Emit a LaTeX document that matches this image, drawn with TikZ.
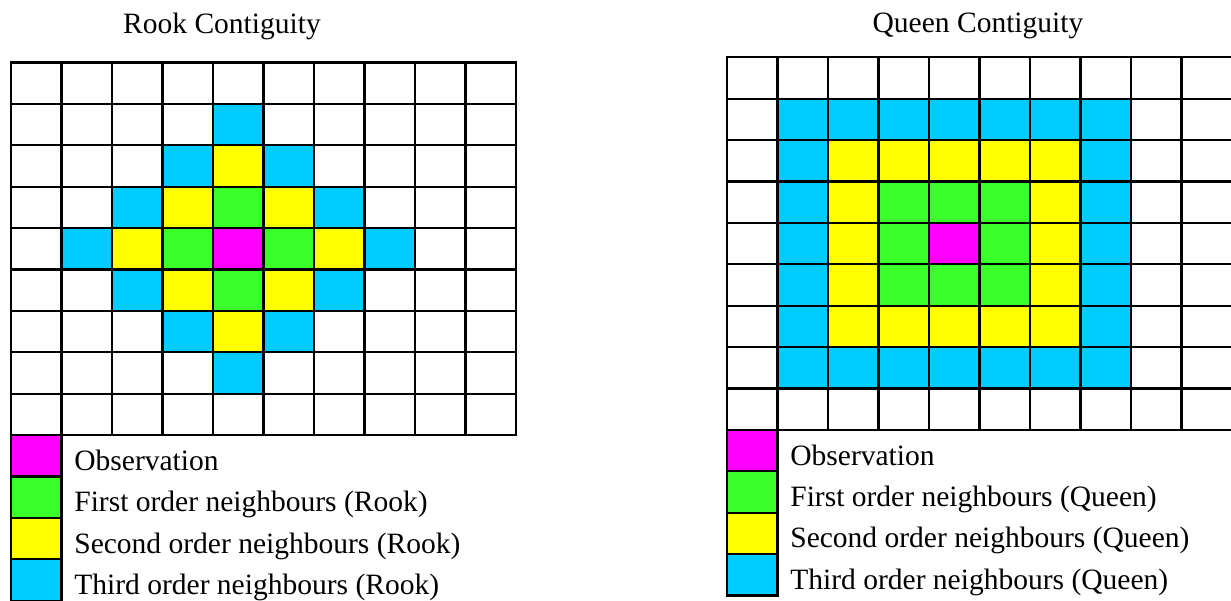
\documentclass[tikz,border=0pt]{standalone}
\usepackage{fontspec}
\setmainfont{Liberation Serif}
\usepackage{tikz}
\usetikzlibrary{positioning,calc}
\usepackage{xcolor}
\definecolor{obsmagenta}{RGB}{255,0,255}
\definecolor{firstgreen}{RGB}{58,255,42}
\definecolor{secondyellow}{RGB}{255,255,0}
\definecolor{thirdcyan}{RGB}{0,204,255}
\colorlet{ring0}{obsmagenta}
\colorlet{ring1}{firstgreen}
\colorlet{ring2}{secondyellow}
\colorlet{ring3}{thirdcyan}
\colorlet{ring4}{white}
\tikzset{
    gridcell/.style={
        rectangle,
        draw,
        line width=1.3pt,
        minimum width=1.01cm,
        minimum height=0.828cm,
        inner sep=0pt,
        outer sep=0pt
    },
    legendtext/.style={
        anchor=base west,
        inner sep=0pt,
        font=\fontsize{16.8}{20}\selectfont
    },
    titletext/.style={
        anchor=base,
        inner sep=0pt,
        font=\fontsize{16.8}{20}\selectfont
    }
}

\begin{document}
\begin{tikzpicture}[x=0.02cm,y=-0.02cm]
        \useasboundingbox (0,0) rectangle (1231,601);

        % Titles
        \node[titletext] (rooktitle) at (222,34) {Rook Contiguity};
        \node[titletext] (queentitle) at (978,33) {Queen Contiguity};

        % Rook grid (distance = |dc|+|dr| from the observation)
        \foreach \r in {0,...,8} {
            \foreach \c in {0,...,9} {
                \pgfmathtruncatemacro\dist{min(abs(\c-4)+abs(\r-4),4)}
                \node[gridcell, fill=ring\dist] (rook-\r-\c) at (36.25+50.5*\c,83.2+41.4*\r) {};
            }
        }

        % Queen grid (distance = max(|dc|,|dr|) from the observation)
        \foreach \r in {0,...,8} {
            \foreach \c in {0,...,9} {
                \pgfmathtruncatemacro\dist{min(max(abs(\c-4),abs(\r-4)),4)}
                \node[gridcell, fill=ring\dist] (queen-\r-\c) at (752.25+50.5*\c,78+41.4*\r) {};
            }
        }

        % Rook legend
        \node[gridcell, fill=obsmagenta] (rookobs) at (36.25,455.8) {};
        \node[gridcell, fill=firstgreen] (rookfirst) at (36.25,497.2) {};
        \node[gridcell, fill=secondyellow] (rooksecond) at (36.25,538.6) {};
        \node[gridcell, fill=thirdcyan] (rookthird) at (36.25,580.0) {};
        \node[legendtext] (rookobslbl) at (74,470.3) {Observation};
        \node[legendtext] (rookfirstlbl) at (74,511.7) {First order neighbours (Rook)};
        \node[legendtext] (rooksecondlbl) at (74,553.1) {Second order neighbours (Rook)};
        \node[legendtext] (rookthirdlbl) at (74,594.5) {Third order neighbours (Rook)};

        % Queen legend
        \node[gridcell, fill=obsmagenta] (queenobs) at (752.25,450.6) {};
        \node[gridcell, fill=firstgreen] (queenfirst) at (752.25,492.0) {};
        \node[gridcell, fill=secondyellow] (queensecond) at (752.25,533.4) {};
        \node[gridcell, fill=thirdcyan] (queenthird) at (752.25,574.8) {};
        \node[legendtext] (queenobslbl) at (790,465.1) {Observation};
        \node[legendtext] (queenfirstlbl) at (790,506.5) {First order neighbours (Queen)};
        \node[legendtext] (queensecondlbl) at (790,547.9) {Second order neighbours (Queen)};
        \node[legendtext] (queenthirdlbl) at (790,589.3) {Third order neighbours (Queen)};
    \end{tikzpicture}
\end{document}
